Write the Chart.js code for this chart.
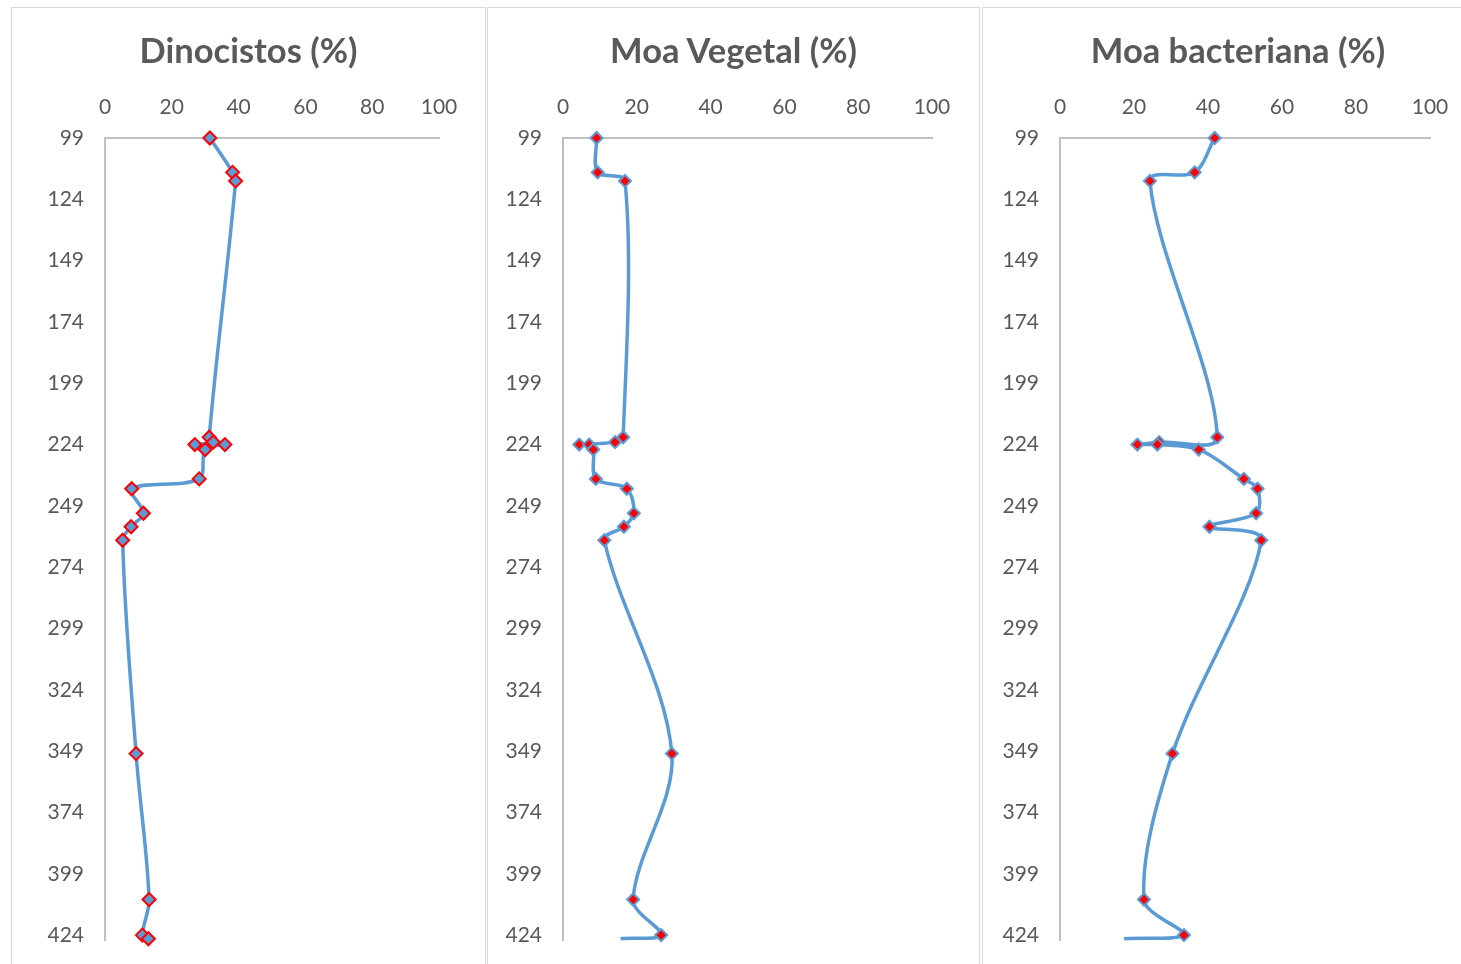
<!DOCTYPE html>
<html>
<head>
<meta charset="utf-8">
<script src="https://cdn.jsdelivr.net/npm/chart.js@4.4.1/dist/chart.umd.min.js"></script>
<style>
  html, body { margin: 0; padding: 0; background: #fff; overflow: hidden; width: 1461px; height: 964px; }
  .panel { position: absolute; top: 7px; height: 1000px; border: 1px solid #d9d9d9; box-sizing: border-box; }
  .title { position: absolute; top: 30px; text-align: center; font-family: Lato, "Open Sans", sans-serif;
           font-weight: bold; font-size: 34.5px; line-height: 40px; color: #595959; white-space: nowrap; }
  canvas { position: absolute; top: 8px; }
</style>
</head>
<body>
<div class="panel" style="left:11px;width:475px"></div>
<div class="panel" style="left:487px;width:493px"></div>
<div class="panel" style="left:982px;width:520px"></div>
<canvas id="c1" width="472" height="1000" style="left:12px"></canvas>
<canvas id="c2" width="490" height="1000" style="left:488px"></canvas>
<canvas id="c3" width="510" height="1000" style="left:983px"></canvas>
<div class="title" style="left:11px;width:475px">Dinocistos (%)</div>
<div class="title" style="left:487px;width:493px">Moa Vegetal (%)</div>
<div class="title" style="left:982px;width:512px">Moa bacteriana (%)</div>
<script>
// profundidades das amostras (eixo vertical)
const depths = [99, 113, 116.5, 221, 223, 224, 224, 226, 238, 242, 252, 257.5, 263, 350, 409.5, 424, 425.5];
const depthTicks = [99, 124, 149, 174, 199, 224, 249, 274, 299, 324, 349, 374, 399, 424];

// valores em %
const dinocistos = [31.4, 38.2, 39.1, 31.2, 32.4, 26.9, 35.9, 30.0, 28.2, 8.0, 11.5, 7.8, 5.3, 9.3, 13.2, 11.2, 13.0];
const moaVegetal = [9.1, 9.4, 16.8, 16.3, 14.1, 4.4, 7.1, 8.2, 8.9, 17.3, 19.2, 16.5, 11.2, 29.5, 19.0, 26.6, 15.6];
const moaBacteriana = [41.8, 36.4, 24.3, 42.5, 26.8, 20.9, 26.3, 37.5, 49.7, 53.4, 53.0, 40.4, 54.4, 30.4, 22.7, 33.5, 17.3];

const FONT = 'Lato, "Open Sans", sans-serif';
const TEXT = '#595959';
const BLUE = '#5B9BD5';
const RED = '#FF0000';

function makeChart(id, values, padRight, yWidth, markers) {
    const ctx = document.getElementById(id).getContext('2d');
    const n = values.length;
    return new Chart(ctx, {
        type: 'scatter',
        data: {
            datasets: [{
                data: values.map((v, i) => ({ x: v, y: depths[i] })),
                showLine: true,
                borderColor: BLUE,
                borderWidth: 3.5,
                tension: 0.33,
                clip: false,
                pointStyle: 'rectRot',
                pointRadius: markers.lastHidden ? values.map((v, i) => i === n - 1 ? 0 : markers.radius) : markers.radius,
                pointBackgroundColor: markers.fill,
                pointBorderColor: markers.border,
                pointBorderWidth: markers.borderWidth
            }]
        },
        options: {
            responsive: false,
            animation: false,
            layout: { padding: { left: 0, right: padRight, top: 0, bottom: 68 } },
            plugins: {
                legend: { display: false },
                tooltip: { enabled: false }
            },
            scales: {
                x: {
                    type: 'linear',
                    position: 'top',
                    min: 0,
                    max: 100,
                    grid: { display: false, drawTicks: false },
                    border: { display: true, color: '#c0c0c0', width: 2 },
                    ticks: { stepSize: 20, color: TEXT, font: { family: FONT, size: 21 }, padding: 18 },
                    afterFit: s => { s.height = 130; }
                },
                y: {
                    type: 'linear',
                    reverse: true,
                    min: 99,
                    max: 426,
                    grid: { display: false, drawTicks: false },
                    border: { display: true, color: '#c0c0c0', width: 2 },
                    ticks: { color: TEXT, font: { family: FONT, size: 21 }, padding: 21 },
                    afterBuildTicks: s => { s.ticks = depthTicks.map(v => ({ value: v })); },
                    afterFit: s => { s.width = yWidth; }
                }
            }
        }
    });
}

makeChart('c1', dinocistos, 45, 93,
    { radius: 6.5, fill: BLUE, border: RED, borderWidth: 2, lastHidden: false });
makeChart('c2', moaVegetal, 46, 75,
    { radius: 6, fill: RED, border: BLUE, borderWidth: 2, lastHidden: true });
makeChart('c3', moaBacteriana, 63, 77,
    { radius: 6, fill: RED, border: BLUE, borderWidth: 2, lastHidden: true });
</script>
</body>
</html>
